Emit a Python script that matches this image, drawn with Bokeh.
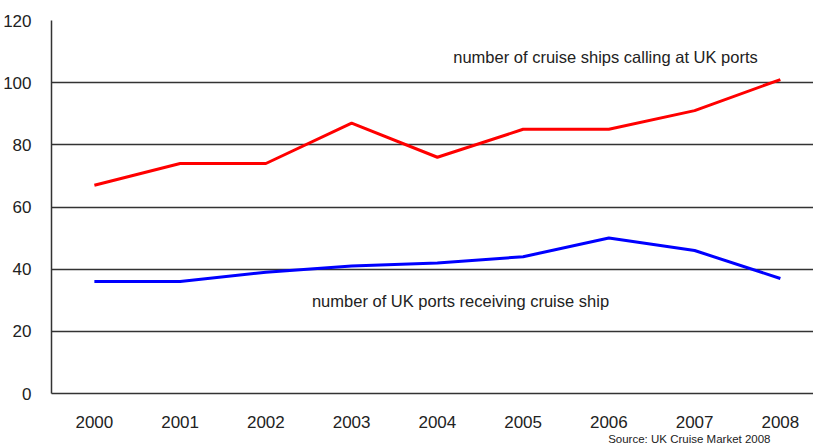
from bokeh.plotting import figure
from bokeh.models import FixedTicker, Label, Range1d, Title
from bokeh.embed import file_html
from bokeh.resources import INLINE

years = [2000, 2001, 2002, 2003, 2004, 2005, 2006, 2007, 2008]
cruise_ships = [67, 74, 74, 87, 76, 85, 85, 91, 101]
uk_ports = [36, 36, 39, 41, 42, 44, 50, 46, 37]
y_ticks = [0, 20, 40, 60, 80, 100, 120]

FONT = "Liberation Sans"
TXT = "#222222"

p = figure(width=813, height=444, output_backend="svg", toolbar_location=None,
           min_border_left=51, min_border_right=0, min_border_top=20, min_border_bottom=51,
           x_range=Range1d(1999.5, 1999.5 + 762 / 85.75), y_range=Range1d(0, 120))
p.outline_line_color = None
p.background_fill_color = "white"
p.border_fill_color = "white"

p.line(years, cruise_ships, line_color="#ff0000", line_width=3)
p.line(years, uk_ports, line_color="#0000ff", line_width=3)

p.xaxis.ticker = FixedTicker(ticks=years)
p.yaxis.ticker = FixedTicker(ticks=y_ticks)
for ax in (p.xaxis[0], p.yaxis[0]):
    ax.major_tick_line_color = None
    ax.minor_tick_line_color = None
    ax.axis_line_color = "#333333"
    ax.axis_line_width = 1.5
    ax.major_label_text_font = FONT
    ax.major_label_text_font_size = "17px"
    ax.major_label_text_color = TXT
p.yaxis.major_label_standoff = 14
p.xaxis.major_label_standoff = 16
p.xgrid.grid_line_color = None
p.ygrid.grid_line_color = "#333333"
p.ygrid.grid_line_width = 1.5

p.add_layout(Label(x=1999.5 + (605 - 51) / 85.75, y=(393 - 57) / 3.108,
                   text="number of cruise ships calling at UK ports", text_font=FONT,
                   text_font_size="16.5px", text_align="center", text_baseline="middle",
                   text_color=TXT))
p.add_layout(Label(x=1999.5 + (460 - 51) / 85.75, y=(393 - 301) / 3.108,
                   text="number of UK ports receiving cruise ship", text_font=FONT,
                   text_font_size="16.5px", text_align="center", text_baseline="middle",
                   text_color=TXT))
p.add_layout(Title(text="Source: UK Cruise Market 2008", text_font=FONT,
                   text_font_size="11.5px", text_font_style="normal", align="right",
                   offset=43, standoff=0, text_color=TXT), "below")

open("out.html", "w").write(file_html(p, INLINE))
